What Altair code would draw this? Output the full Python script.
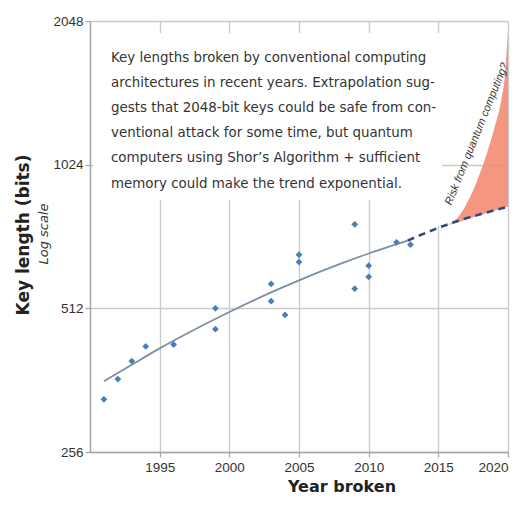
import altair as alt
import pandas as pd

# RSA factoring records
years = [1991, 1992, 1993, 1994, 1996, 1999, 1999, 2003, 2003, 2004, 2005, 2005, 2009, 2009, 2010, 2010, 2012, 2013]
bits = [330, 364, 397, 426, 430, 463, 512, 530, 576, 496, 640, 663, 563, 768, 596, 629, 704, 696]

trend_years = [1991, 1993, 1995, 1997, 2000, 2003, 2005, 2008, 2010, 2012.8]
trend_bits = [360, 390, 422, 454, 503, 553, 586, 635, 667, 710]

extrap_years = [2012.8, 2015, 2020]
extrap_bits = [710, 755, 836]

risk_years = [2015.7, 2016.5, 2017, 2017.5, 2018, 2018.5, 2019, 2019.5, 2019.8, 2020]
risk_low = [765, 777, 786, 795, 803, 812, 820, 828, 833, 836]
risk_high = [765, 800, 845, 905, 985, 1085, 1215, 1390, 1600, 1950]

x_ticks = [1995, 2000, 2005, 2010, 2015, 2020]
y_ticks = [256, 512, 1024, 2048]

note_lines = [
    "Key lengths broken by conventional computing",
    "architectures in recent years.  Extrapolation sug-",
    "gests that 2048-bit keys could be safe from con-",
    "ventional attack for some time, but quantum",
    "computers using Shor\u2019s Algorithm + sufficient",
    "memory could make the trend exponential.",
]
risk_label = "Risk from quantum computing?"
y_title = "Key length (bits)"
y_subtitle = "Log scale"
x_title = "Year broken"

LAB = "Liberation Sans, Arial, sans-serif"
TIT = "DejaVu Sans, sans-serif"

pts = pd.DataFrame({"year": years, "bits": bits})
trend = pd.DataFrame({"year": trend_years, "bits": trend_bits})
extrap = pd.DataFrame({"year": extrap_years, "bits": extrap_bits})
risk = pd.DataFrame({"year": risk_years, "low": risk_low, "high": risk_high})
one = pd.DataFrame({"a": [0]})

xscale = alt.Scale(domain=[1990, 2020], nice=False, zero=False)
yscale = alt.Scale(type="log", base=2, domain=[256, 2048], nice=False)

axis_style = dict(format="d", title="", grid=True,
                  gridColor="#cbcbcb", gridWidth=1.4,
                  domainColor="#a5a5a5", domainWidth=1.5,
                  tickColor="#a5a5a5", tickSize=5, tickWidth=1.2,
                  labelFont=LAB, labelFontSize=13.5,
                  labelColor="#333333")
xaxis = alt.Axis(values=x_ticks, labelPadding=3, **axis_style)
yaxis = alt.Axis(values=y_ticks, labelPadding=2, **axis_style)

box = alt.Chart(one).mark_rect(fill="white").encode(
    x=alt.value(3), x2=alt.value(352), y=alt.value(12), y2=alt.value(179))
box2 = alt.Chart(one).mark_rect(fill="white").encode(
    x=alt.value(342), x2=alt.value(355), y=alt.value(172), y2=alt.value(205))

area = alt.Chart(risk).mark_area(color="#F2876F", opacity=0.88, interpolate="monotone").encode(
    x=alt.X("year:Q", scale=xscale, axis=xaxis),
    y=alt.Y("low:Q", scale=yscale, axis=yaxis),
    y2="high:Q")

trend_line = alt.Chart(trend).mark_line(color="#7D8EA6", strokeWidth=1.8, interpolate="monotone").encode(
    x=alt.X("year:Q", scale=xscale), y=alt.Y("bits:Q", scale=yscale))

dash_line = alt.Chart(extrap).mark_line(color="#2F4B7C", strokeWidth=2.6, strokeDash=[7, 5],
                                        interpolate="monotone").encode(
    x=alt.X("year:Q", scale=xscale), y=alt.Y("bits:Q", scale=yscale))

points = alt.Chart(pts).mark_point(shape="diamond", filled=True, size=46, color="#4A7EB8", opacity=1).encode(
    x=alt.X("year:Q", scale=xscale), y=alt.Y("bits:Q", scale=yscale))

note = alt.Chart(one).mark_text(align="left", baseline="alphabetic", font="DejaVu Sans",
                                fontSize=13.4, lineHeight=25.2, color="#333333").encode(
    x=alt.value(21), y=alt.value(40.5), text=alt.value(note_lines))

risk_text = alt.Chart(one).mark_text(align="center", baseline="middle", font=LAB, fontStyle="italic",
                                     fontSize=11, angle=292, color="#333333").encode(
    x=alt.value(387), y=alt.value(113), text=alt.value(risk_label))

ytitle = alt.Chart(one).mark_text(align="center", baseline="middle", font=TIT, fontWeight="bold",
                                  fontSize=17, angle=270, color="#222222").encode(
    x=alt.value(-66), y=alt.value(214), text=alt.value(y_title))

ysub = alt.Chart(one).mark_text(align="center", baseline="middle", font=TIT, fontStyle="italic",
                                fontSize=13, angle=270, color="#333333").encode(
    x=alt.value(-46), y=alt.value(213), text=alt.value(y_subtitle))

xtitle = alt.Chart(one).mark_text(align="center", baseline="alphabetic", font=TIT, fontWeight="bold",
                                  fontSize=16, color="#222222").encode(
    x=alt.value(252), y=alt.value(471), text=alt.value(x_title))

chart = alt.layer(box, box2, area, trend_line, dash_line, points, note, risk_text, ytitle, ysub, xtitle).properties(
    width=418, height=431,
    autosize=alt.AutoSizeParams(type="none"),
    padding={"left": 82, "top": 13, "right": 10, "bottom": 47},
).configure_view(strokeWidth=0)

chart.save("out.html", embed_options={"renderer": "svg", "actions": False})
